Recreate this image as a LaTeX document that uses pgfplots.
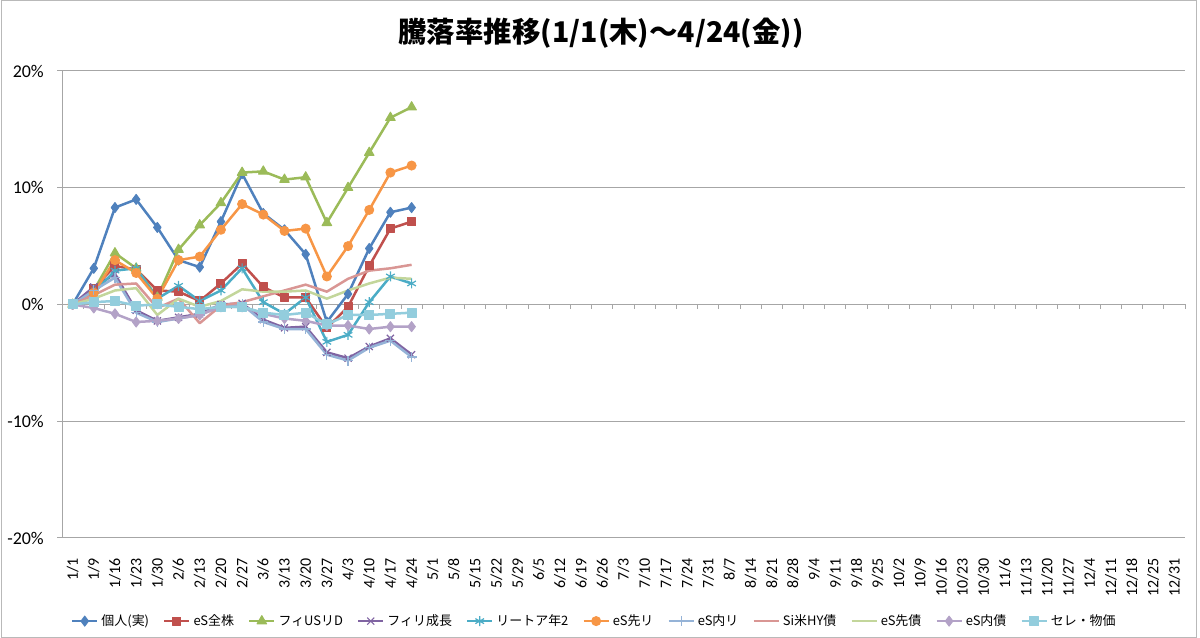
\documentclass[border=0pt]{standalone}
\usepackage{fontspec}
\setmainfont{Carlito}
\newfontfamily\cjk{Noto Sans CJK JP}
\usepackage{pgfplots}
\pgfplotsset{compat=1.18}
\usepackage{pgfplotstable}

\definecolor{c1}{HTML}{4F81BD}
\definecolor{c2}{HTML}{C0504D}
\definecolor{c3}{HTML}{9BBB59}
\definecolor{c4}{HTML}{8064A2}
\definecolor{c5}{HTML}{4BACC6}
\definecolor{c6}{HTML}{F79646}
\definecolor{c7}{HTML}{95B3D7}
\definecolor{c8}{HTML}{D99694}
\definecolor{c9}{HTML}{C3D69B}
\definecolor{c10}{HTML}{B3A2C7}
\definecolor{c11}{HTML}{93CDDD}
\definecolor{gridc}{HTML}{A6A6A6}

\pgfplotstableread{
x  kojin  eszen  fius  fiseicho reit  essaki esnai  sihy  essakisai esnaisai sere
0  0      0      0     0        0     0      0      0     0         0        0
1  3.1    1.4    1.2   1.5      1.0   1.0    1.2    0.8   0.5       -0.3     0.2
2  8.3    3.3    4.4   2.6      2.9   3.8    2.3    1.7   1.2       -0.8     0.3
3  9.0    3.0    3.1   -0.5     3.1   2.7    -0.7   1.8   1.4       -1.5     -0.1
4  6.6    1.2    0.6   -1.4     0.5   0.5    -1.5   -0.3  -0.9      -1.4     0.0
5  3.8    1.1    4.7   -1.1     1.6   3.8    -1.2   0.5   0.5       -1.2     -0.2
6  3.2    0.3    6.8   -0.8     0.3   4.1    -0.9   -1.6  -0.2      -0.9     -0.4
7  7.1    1.8    8.7   0.0      1.2   6.4    -0.1   -0.1  0.3       -0.2     -0.2
8  11.2   3.5    11.3  0.1      3.1   8.6    0.0    0.2   1.3       -0.2     -0.2
9  7.8    1.5    11.4  -1.3     0.2   7.7    -1.5   0.7   1.1       -0.8     -0.7
10 6.4    0.6    10.7  -2.0     -0.8  6.3    -2.1   1.2   1.1       -1.2     -0.9
11 4.3    0.6    10.9  -1.9     0.6   6.5    -2.1   1.7   1.2       -1.4     -0.7
12 -1.5   -2.0   7.0   -4.1     -3.2  2.4    -4.3   1.1   0.5       -1.8     -1.7
13 0.9    -0.2   10.0  -4.6     -2.6  5.0    -4.8   2.2   1.2       -1.8     -0.9
14 4.8    3.3    13.0  -3.6     0.2   8.1    -3.7   2.9   1.8       -2.1     -0.9
15 7.9    6.5    16.0  -2.9     2.4   11.3   -3.1   3.1   2.3       -1.9     -0.8
16 8.3    7.1    16.9  -4.3     1.8   11.9   -4.5   3.4   2.2       -1.9     -0.7
}\data

\begin{document}
\begin{tikzpicture}[x=1bp,y=1bp]
\useasboundingbox (0,0) rectangle (1200,638);
\draw[gray!55, line width=1bp] (1,0.5) rectangle (1196,637.5);
\node[font=\cjk\bfseries\fontsize{28.6}{32}\selectfont] at (601,605) {騰落率推移(1/1(木)～4/24(金))};
\begin{axis}[
  at={(62bp,100bp)}, anchor=south west,
  scale only axis, width=1123bp, height=467bp,
  xmin=-0.5, xmax=52.5, ymin=-20, ymax=20,
  axis x line*=bottom, axis y line*=left,
  x axis line style={draw=none},
  y axis line style={draw=gridc, line width=1bp, -},
  ytick={-20,-10,0,10,20},
  yticklabels={-20\%,-10\%,0\%,10\%,20\%},
  ymajorgrids, grid style={draw=gridc, line width=1bp},
  ytick style={draw=gridc, line width=1bp},
  tick align=outside, major tick length=5bp,
  yticklabel style={font=\fontsize{18}{20}\selectfont, inner sep=0bp, xshift=-13bp},
  xtick={0,...,52},
  xticklabels={1/1,1/9,1/16,1/23,1/30,2/6,2/13,2/20,2/27,3/6,3/13,3/20,3/27,4/3,4/10,4/17,4/24,5/1,5/8,5/15,5/22,5/29,6/5,6/12,6/19,6/26,7/3,7/10,7/17,7/24,7/31,8/7,8/14,8/21,8/28,9/4,9/11,9/18,9/25,10/2,10/9,10/16,10/23,10/30,11/6,11/13,11/20,11/27,12/4,12/11,12/18,12/25,12/31},
  xtick style={draw=none},
  xticklabel style={yshift=-15bp, rotate=90, anchor=east, font=\fontsize{16}{18}\selectfont, inner sep=0bp},
  clip=false,
  legend columns=11,
  legend style={at={(0.474,-0.178)}, anchor=center, draw=none, fill=none,
    font=\cjk\fontsize{13}{15}\selectfont, inner sep=0bp,
    /tikz/every even column/.append style={column sep=12bp},
    /tikz/every odd column/.append style={column sep=1bp}},
  legend image code/.code={\draw[mark repeat=2,mark phase=2] plot coordinates {(0bp,0bp) (12.5bp,0bp) (25bp,0bp)};},
  every axis plot/.append style={line width=2.5bp, line join=round},
]
\pgfplotsinvokeforeach{0,...,53}{\draw[gridc, line width=1bp] (axis cs:#1-0.5,0) -- ([yshift=-5bp]axis cs:#1-0.5,0);}
\addplot[c1, mark=diamond*, mark size=5bp, mark options={solid, line width=1bp}] table[x=x,y=kojin]{\data};
\addlegendentry{個人(実)}
\addplot[c2, mark=square*, mark size=4bp, mark options={solid, line width=1bp}] table[x=x,y=eszen]{\data};
\addlegendentry{eS全株}
\addplot[c3, mark=triangle*, mark size=5.5bp, mark options={solid, line width=1bp}] table[x=x,y=fius]{\data};
\addlegendentry{フィUSリD}
\addplot[c4, mark=x, mark size=5bp, mark options={solid, line width=1.2bp}] table[x=x,y=fiseicho]{\data};
\addlegendentry{フィリ成長}
\addplot[c5, mark=asterisk, mark size=5bp, mark options={solid, line width=1.2bp}] table[x=x,y=reit]{\data};
\addlegendentry{リートア年2}
\addplot[c6, mark=*, mark size=4.5bp, mark options={solid, line width=1bp}] table[x=x,y=essaki]{\data};
\addlegendentry{eS先リ}
\addplot[c7, mark=+, mark size=5bp, mark options={solid, line width=1.2bp}] table[x=x,y=esnai]{\data};
\addlegendentry{eS内リ}
\addplot[c8, no marks] table[x=x,y=sihy]{\data};
\addlegendentry{Si米HY債}
\addplot[c9, no marks] table[x=x,y=essakisai]{\data};
\addlegendentry{eS先債}
\addplot[c10, mark=diamond*, mark size=5bp, mark options={solid, line width=1bp}] table[x=x,y=esnaisai]{\data};
\addlegendentry{eS内債}
\addplot[c11, mark=square*, mark size=4.5bp, mark options={solid, line width=1bp}] table[x=x,y=sere]{\data};
\addlegendentry{セレ・物価}
\end{axis}
\end{tikzpicture}
\end{document}
